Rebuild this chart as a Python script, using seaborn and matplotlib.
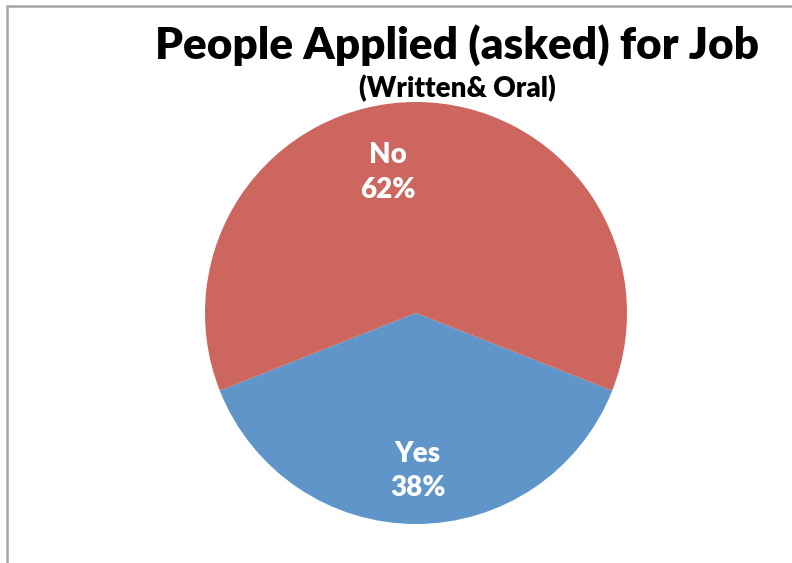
import matplotlib
matplotlib.use("Agg")
import matplotlib.pyplot as plt
import seaborn as sns
from matplotlib.lines import Line2D
import numpy as np

categories = ["Yes", "No"]
values = [38, 62]
colors = ["#5F95C9", "#CC665F"]

sns.set_theme(style="white")
plt.rcParams['font.family'] = ['Lato', 'DejaVu Sans']

W, H = 792, 563
fig = plt.figure(figsize=(W / 100, H / 100), dpi=100)

# frame (cropped chart border)
fig.add_artist(Line2D([7 / W, 7 / W], [0, 1 - 6 / H], color="#a6a6a6", lw=1.8, transform=fig.transFigure))
fig.add_artist(Line2D([7 / W, 1], [1 - 6 / H, 1 - 6 / H], color="#a6a6a6", lw=1.8, transform=fig.transFigure))

cx, cy, r = 416, H - 313, 211
ax = fig.add_axes([(cx - r) / W, (cy - r) / H, 2 * r / W, 2 * r / H])
wedges, _ = ax.pie(values, colors=colors, startangle=201.6, counterclock=True,
                   radius=1, wedgeprops=dict(linewidth=0))
ax.set_xlim(-1, 1)
ax.set_ylim(-1, 1)
ax.set_aspect("equal")
ax.axis("off")

label_pos = [(270.6, 0.75), (101.5, 0.68)]
for cat, v, (ang, dist) in zip(categories, values, label_pos):
    a = np.deg2rad(ang)
    ax.text(dist * np.cos(a), dist * np.sin(a), f"{cat}\n{v}%", ha="center", va="center",
            color="white", fontsize=20, fontweight="heavy", linespacing=1.4)

fig.text(457 / W, 1 - 45 / H, "People Applied (asked) for Job", ha="center", va="center",
         fontsize=31.8, fontweight="heavy", color="black")
fig.text(457 / W, 1 - 89 / H, "(Written& Oral)", ha="center", va="center",
         fontsize=20, fontweight="heavy", color="black")

fig.savefig("out.png", dpi=100)
